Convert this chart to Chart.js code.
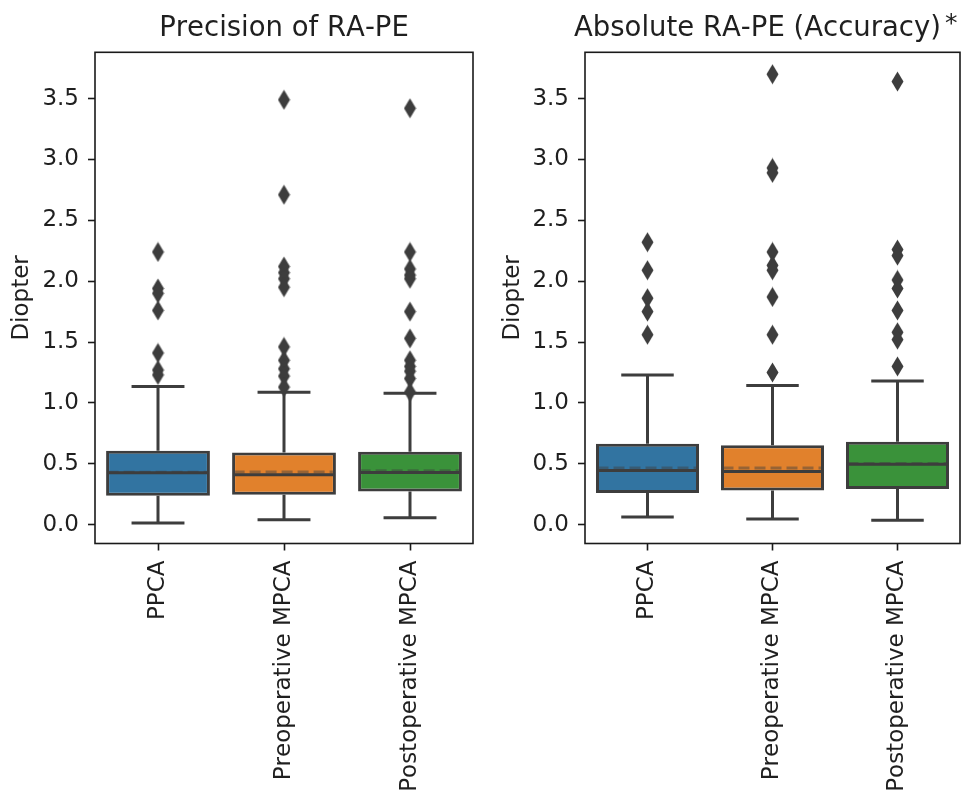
<!DOCTYPE html>
<html>
<head>
<meta charset="utf-8">
<script src="https://cdn.jsdelivr.net/npm/chart.js@4.4.0/dist/chart.umd.min.js"></script>
<style>
html,body{margin:0;padding:0;background:#fff;}
#wrap{position:relative;width:967px;height:791px;overflow:hidden;background:#fff;}
canvas{position:absolute;top:0;}
</style>
</head>
<body>
<div id="wrap">
<canvas id="left" width="483" height="791" style="left:0px"></canvas>
<canvas id="right" width="484" height="791" style="left:483px"></canvas>
</div>
<script>
// ---------- data ----------
const categories = ['PPCA', 'Preoperative MPCA', 'Postoperative MPCA'];
const yTicks = [0, 0.5, 1.0, 1.5, 2.0, 2.5, 3.0, 3.5];

// Precision of RA-PE
const precQ1     = [0.238, 0.246, 0.273];
const precMedian = [0.427, 0.410, 0.429];
const precQ3     = [0.607, 0.593, 0.598];
const precMean   = [0.430, 0.432, 0.443];
const precWhisLo = [0.014, 0.041, 0.057];
const precWhisHi = [1.134, 1.088, 1.080];
const precFliersPPCA = [2.24, 1.94, 1.90, 1.76, 1.41, 1.27, 1.23];
const precFliersPre  = [3.49, 2.71, 2.12, 2.07, 2.02, 1.95, 1.46, 1.35, 1.28, 1.22, 1.13];
const precFliersPost = [3.42, 2.24, 2.10, 2.05, 2.02, 1.75, 1.53, 1.35, 1.30, 1.26, 1.20, 1.09];

// Absolute RA-PE (Accuracy)
const accQ1     = [0.260, 0.281, 0.293];
const accMedian = [0.445, 0.437, 0.497];
const accQ3     = [0.664, 0.653, 0.680];
const accMean   = [0.465, 0.465, 0.503];
const accWhisLo = [0.063, 0.047, 0.035];
const accWhisHi = [1.230, 1.142, 1.180];
const accFliersPPCA = [2.32, 2.09, 1.86, 1.75, 1.56];
const accFliersPre  = [3.70, 2.93, 2.89, 2.24, 2.13, 2.09, 1.87, 1.56, 1.25];
const accFliersPost = [3.64, 2.26, 2.21, 2.01, 1.94, 1.76, 1.58, 1.52, 1.30];

// ---------- styles ----------
const FONT = "'DejaVu Sans', 'Liberation Sans', sans-serif";
const TEXT = '#1f1f1f';
const LINE = '#3d3d3d';
const boxColors = ['#3274a1', '#e1812c', '#3a923a'];

function thinDiamond() {
  const c = document.createElement('canvas');
  c.width = 13; c.height = 21;
  const g = c.getContext('2d');
  g.fillStyle = LINE;
  g.beginPath();
  g.moveTo(6.5, 0.5); g.lineTo(12.5, 10.5); g.lineTo(6.5, 20.5); g.lineTo(0.5, 10.5);
  g.closePath(); g.fill();
  return c;
}
const diamond = thinDiamond();

function whiskerPoints(q1, q3, lo, hi) {
  const pts = [];
  q1.forEach((v, i) => {
    pts.push({x: i, y: q3[i]}, {x: i, y: hi[i]}, {x: i, y: null},
             {x: i, y: v}, {x: i, y: lo[i]}, {x: i, y: null});
  });
  return pts;
}
function hSegments(vals, half) {
  const pts = [];
  vals.forEach((v, i) => { pts.push({x: i - half, y: v}, {x: i + half, y: v}, {x: i + half, y: null}); });
  return pts;
}
function flierPoints(groups) {
  const pts = [];
  groups.forEach((g, i) => g.forEach(v => pts.push({x: i, y: v})));
  return pts;
}

const framePlugin = {
  id: 'frame',
  beforeDraw(chart) { try { chart.ctx.fontKerning = 'none'; } catch (e) {} },
  afterDatasetsDraw(chart) {
    const {ctx, chartArea: a} = chart;
    ctx.save();
    ctx.strokeStyle = '#1a1a1a';
    ctx.lineWidth = 1.6;
    ctx.strokeRect(a.left, a.top, a.right - a.left, a.bottom - a.top);
    ctx.restore();
  }
};

function makeChart(id, cfg) {
  const lineDs = (label, data, order, extra) => Object.assign({
    type: 'line', label, data, order,
    borderColor: LINE, borderWidth: 3, pointRadius: 0, spanGaps: false,
    fill: false, tension: 0, borderCapStyle: 'butt'
  }, extra || {});

  return new Chart(document.getElementById(id), {
    type: 'bar',
    data: {
      datasets: [
        {
          type: 'bar', label: 'box', order: 10,
          data: cfg.q1.map((v, i) => ({x: i, y: [v, cfg.q3[i]]})),
          backgroundColor: boxColors, borderColor: LINE, borderWidth: 3,
          borderSkipped: false, barPercentage: 0.824, categoryPercentage: 1.0
        },
        lineDs('whiskers', whiskerPoints(cfg.q1, cfg.q3, cfg.lo, cfg.hi), 4),
        lineDs('caps', hSegments(cfg.lo, 0.21).concat(hSegments(cfg.hi, 0.21)), 3),
        lineDs('mean', hSegments(cfg.mean, 0.4), 2,
               {borderColor: 'rgba(61,61,61,0.45)', borderDash: [11, 5]}),
        lineDs('median', hSegments(cfg.median, 0.4), 1),
        {
          type: 'scatter', label: 'fliers', order: 0,
          data: flierPoints(cfg.fliers),
          pointStyle: diamond, pointRadius: 6, showLine: false
        }
      ]
    },
    options: {
      responsive: false,
      animation: false,
      events: [],
      layout: {padding: {left: 0, right: cfg.padRight, top: 0, bottom: 0}},
      plugins: {
        legend: {display: false},
        tooltip: {enabled: false},
        title: {
          display: true, text: cfg.title, fullSize: false,
          color: TEXT, font: {family: FONT, size: 27.5, weight: 'normal'},
          padding: {top: 12, bottom: 7.3}
        }
      },
      scales: {
        x: {
          type: 'linear', min: -0.5, max: 2.5, offset: false,
          afterBuildTicks: s => { s.ticks = categories.map((c, i) => ({value: i})); },
          afterFit: s => { s.height = 247.5; },
          grid: {display: true, offset: false, drawOnChartArea: false, drawTicks: true, tickLength: 7,
                 tickColor: '#1a1a1a', tickWidth: 1.6},
          border: {display: false},
          ticks: {
            autoSkip: false, minRotation: 90, maxRotation: 90, padding: 10,
            color: TEXT, font: {family: FONT, size: 23},
            callback: v => categories[v]
          }
        },
        y: {
          type: 'linear', min: -0.155, max: 3.88,
          afterBuildTicks: s => { s.ticks = yTicks.map(v => ({value: v})); },
          afterFit: s => { s.width = cfg.yWidth; },
          grid: {display: true, drawOnChartArea: false, drawTicks: true, tickLength: 7,
                 tickColor: '#1a1a1a', tickWidth: 1.6},
          border: {display: false},
          ticks: {
            padding: 9, color: TEXT, font: {family: FONT, size: 23},
            callback: v => Number(v).toFixed(1)
          },
          title: {
            display: true, text: 'Diopter', color: TEXT,
            font: {family: FONT, size: 23}, padding: {top: cfg.titlePad, bottom: 0}
          }
        }
      }
    },
    plugins: [framePlugin].concat(cfg.plugins || [])
  });
}

// shift + superscript asterisk for the right title
const asteriskPlugin = {
  id: 'asterisk',
  afterLayout(chart) {
    const t = chart.titleBlock;
    t.left -= 15; t.right -= 15;
  },
  afterDraw(chart) {
    const t = chart.titleBlock;
    const {ctx} = chart;
    ctx.save();
    ctx.font = "normal 27.5px " + FONT;
    const w = ctx.measureText(chart.options.plugins.title.text).width;
    const cx = (t.left + t.right) / 2;
    ctx.font = "normal 25px " + FONT;
    ctx.fillStyle = TEXT;
    ctx.textAlign = 'left';
    ctx.textBaseline = 'alphabetic';
    ctx.fillText('*', cx + w / 2 + 4, t.top + 31);
    ctx.restore();
  }
};

makeChart('left', {
  title: 'Precision of RA-PE',
  q1: precQ1, q3: precQ3, median: precMedian, mean: precMean,
  lo: precWhisLo, hi: precWhisHi,
  fliers: [precFliersPPCA, precFliersPre, precFliersPost],
  yWidth: 95, padRight: 10, titlePad: 8
});
makeChart('right', {
  title: 'Absolute RA-PE (Accuracy)',
  q1: accQ1, q3: accQ3, median: accMedian, mean: accMean,
  lo: accWhisLo, hi: accWhisHi,
  fliers: [accFliersPPCA, accFliersPre, accFliersPost],
  yWidth: 102, padRight: 4, titlePad: 16,
  plugins: [asteriskPlugin]
});
</script>
</body>
</html>
